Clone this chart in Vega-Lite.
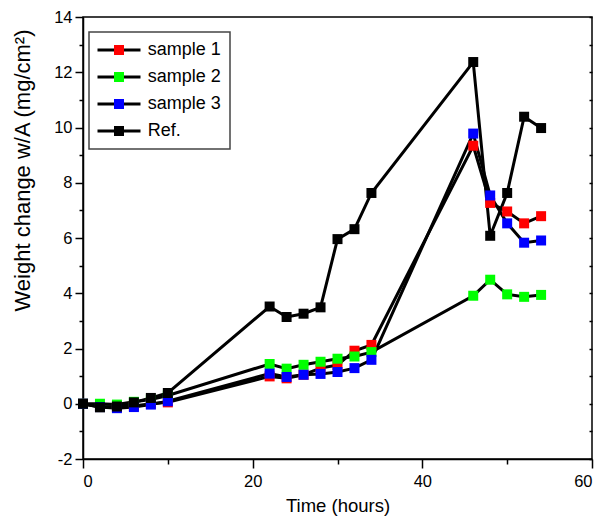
{
  "$schema": "https://vega.github.io/schema/vega-lite/v6.json",
  "width": 509,
  "height": 442,
  "autosize": {"type": "none"},
  "padding": {"left": 83, "top": 17, "right": 11, "bottom": 59},
  "background": "white",
  "config": {
    "view": {"stroke": "black", "strokeWidth": 1.5},
    "font": "Liberation Sans",
    "axis": {
      "grid": false,
      "domainColor": "black",
      "domainWidth": 1.5,
      "tickColor": "black",
      "tickWidth": 1.5,
      "labelColor": "black",
      "titleColor": "black",
      "labelFont": "Liberation Sans",
      "labelFontSize": 16.5,
      "titleFontWeight": "normal"
    },
    "legend": {"strokeWidth": 1.5}
  },
  "data": {
    "values": [
      {"time": 0, "w": 0, "series": "sample 1"},
      {"time": 2, "w": -0.1, "series": "sample 1"},
      {"time": 4, "w": -0.12, "series": "sample 1"},
      {"time": 6, "w": -0.08, "series": "sample 1"},
      {"time": 8, "w": 0.0, "series": "sample 1"},
      {"time": 10, "w": 0.05, "series": "sample 1"},
      {"time": 22, "w": 0.99, "series": "sample 1"},
      {"time": 24, "w": 0.92, "series": "sample 1"},
      {"time": 26, "w": 1.05, "series": "sample 1"},
      {"time": 28, "w": 1.29, "series": "sample 1"},
      {"time": 30, "w": 1.40, "series": "sample 1"},
      {"time": 32, "w": 1.92, "series": "sample 1"},
      {"time": 34, "w": 2.13, "series": "sample 1"},
      {"time": 46, "w": 9.34, "series": "sample 1"},
      {"time": 48, "w": 7.27, "series": "sample 1"},
      {"time": 50, "w": 6.96, "series": "sample 1"},
      {"time": 52, "w": 6.53, "series": "sample 1"},
      {"time": 54, "w": 6.79, "series": "sample 1"},
      {"time": 0, "w": 0, "series": "sample 2"},
      {"time": 2, "w": 0.0, "series": "sample 2"},
      {"time": 4, "w": -0.03, "series": "sample 2"},
      {"time": 6, "w": 0.07, "series": "sample 2"},
      {"time": 8, "w": 0.15, "series": "sample 2"},
      {"time": 10, "w": 0.3, "series": "sample 2"},
      {"time": 22, "w": 1.44, "series": "sample 2"},
      {"time": 24, "w": 1.27, "series": "sample 2"},
      {"time": 26, "w": 1.41, "series": "sample 2"},
      {"time": 28, "w": 1.52, "series": "sample 2"},
      {"time": 30, "w": 1.63, "series": "sample 2"},
      {"time": 32, "w": 1.71, "series": "sample 2"},
      {"time": 34, "w": 1.87, "series": "sample 2"},
      {"time": 46, "w": 3.91, "series": "sample 2"},
      {"time": 48, "w": 4.49, "series": "sample 2"},
      {"time": 50, "w": 3.96, "series": "sample 2"},
      {"time": 52, "w": 3.87, "series": "sample 2"},
      {"time": 54, "w": 3.94, "series": "sample 2"},
      {"time": 0, "w": 0, "series": "sample 3"},
      {"time": 2, "w": -0.12, "series": "sample 3"},
      {"time": 4, "w": -0.16, "series": "sample 3"},
      {"time": 6, "w": -0.12, "series": "sample 3"},
      {"time": 8, "w": -0.03, "series": "sample 3"},
      {"time": 10, "w": 0.09, "series": "sample 3"},
      {"time": 22, "w": 1.09, "series": "sample 3"},
      {"time": 24, "w": 0.97, "series": "sample 3"},
      {"time": 26, "w": 1.05, "series": "sample 3"},
      {"time": 28, "w": 1.08, "series": "sample 3"},
      {"time": 30, "w": 1.15, "series": "sample 3"},
      {"time": 32, "w": 1.29, "series": "sample 3"},
      {"time": 34, "w": 1.59, "series": "sample 3"},
      {"time": 46, "w": 9.78, "series": "sample 3"},
      {"time": 48, "w": 7.54, "series": "sample 3"},
      {"time": 50, "w": 6.53, "series": "sample 3"},
      {"time": 52, "w": 5.83, "series": "sample 3"},
      {"time": 54, "w": 5.91, "series": "sample 3"},
      {"time": 0, "w": 0, "series": "Ref."},
      {"time": 2, "w": -0.13, "series": "Ref."},
      {"time": 4, "w": -0.1, "series": "Ref."},
      {"time": 6, "w": 0.05, "series": "Ref."},
      {"time": 8, "w": 0.21, "series": "Ref."},
      {"time": 10, "w": 0.39, "series": "Ref."},
      {"time": 22, "w": 3.52, "series": "Ref."},
      {"time": 24, "w": 3.14, "series": "Ref."},
      {"time": 26, "w": 3.26, "series": "Ref."},
      {"time": 28, "w": 3.49, "series": "Ref."},
      {"time": 30, "w": 5.96, "series": "Ref."},
      {"time": 32, "w": 6.32, "series": "Ref."},
      {"time": 34, "w": 7.63, "series": "Ref."},
      {"time": 46, "w": 12.37, "series": "Ref."},
      {"time": 48, "w": 6.08, "series": "Ref."},
      {"time": 50, "w": 7.63, "series": "Ref."},
      {"time": 52, "w": 10.39, "series": "Ref."},
      {"time": 54, "w": 9.98, "series": "Ref."}
    ]
  },
  "encoding": {
    "x": {
      "field": "time",
      "type": "quantitative",
      "scale": {"domain": [0, 60], "nice": false, "zero": false},
      "axis": {
        "title": "Time (hours)",
        "values": [0, 10, 20, 30, 40, 50, 60],
        "labelExpr": "datum.value % 20 === 0 ? '' + datum.value : ''",
        "tickSize": {"condition": {"test": "datum.value % 20 === 0", "value": 9}, "value": 5},
        "labelPadding": 5,
        "titleFont": "Liberation Sans",
        "titleFontSize": 18.5,
        "titlePadding": 7
      }
    }
  },
  "layer": [
    {
      "mark": {"type": "line", "strokeWidth": 3},
      "encoding": {
        "y": {
          "field": "w",
          "type": "quantitative",
          "scale": {"domain": [-2, 14], "nice": false, "zero": false},
          "axis": {
            "orient": "left",
            "title": "Weight change w/A (mg/cm²)",
            "values": [-2, -1, 0, 1, 2, 3, 4, 5, 6, 7, 8, 9, 10, 11, 12, 13, 14],
            "labelExpr": "datum.value % 2 === 0 ? (datum.value < 0 ? '-' + abs(datum.value) : '' + datum.value) : ''",
            "tickSize": {"condition": {"test": "datum.value % 2 === 0", "value": 8}, "value": 4},
            "labelPadding": 3,
            "titleFont": "Liberation Sans",
            "titleFontSize": 22,
            "titleAngle": -90,
            "titleAlign": "center",
            "titleBaseline": "alphabetic",
            "titleX": -54,
            "titleY": 153
          }
        },
        "stroke": {
          "field": "series",
          "type": "nominal",
          "sort": ["sample 1", "sample 2", "sample 3", "Ref."],
          "scale": {"range": ["black", "black", "black", "black"]},
          "legend": {
            "orient": "none",
            "legendX": 6,
            "legendY": 15,
            "title": null,
            "symbolType": "M-4.3,0H4.3",
            "symbolSize": 100,
            "symbolStrokeWidth": 3,
            "symbolStrokeColor": "black",
            "symbolOffset": 12,
            "labelOffset": 19.7,
            "labelFont": "Liberation Sans",
            "labelFontSize": 18,
            "labelColor": "black",
            "padding": 9,
            "rowPadding": 9,
            "strokeColor": "#444444",
            "zindex": 0
          }
        }
      }
    },
    {
      "mark": {"type": "point", "shape": "square", "filled": true, "size": 100, "opacity": 1, "strokeWidth": 0},
      "encoding": {
        "y": {
          "field": "w",
          "type": "quantitative",
          "scale": {"domain": [-2, 14], "nice": false, "zero": false},
          "axis": {
            "orient": "right",
            "title": null,
            "values": [-2, -1, 0, 1, 2, 3, 4, 5, 6, 7, 8, 9, 10, 11, 12, 13, 14],
            "labels": false,
            "domain": false,
            "tickSize": -3
          }
        },
        "fill": {
          "field": "series",
          "type": "nominal",
          "scale": {"domain": ["sample 1", "sample 2", "sample 3", "Ref."], "range": ["#ff0000", "#00ff00", "#0000ff", "#000000"]},
          "legend": {
            "orient": "none",
            "legendX": 6,
            "legendY": 15,
            "title": null,
            "symbolType": "square",
            "symbolSize": 100,
            "symbolStrokeWidth": 0,
            "symbolOffset": 12,
            "labelOffset": 19.7,
            "labelFont": "Liberation Sans",
            "labelFontSize": 18,
            "labelOpacity": 0,
            "padding": 9,
            "rowPadding": 9,
            "strokeColor": "transparent",
            "zindex": 1
          }
        }
      }
    }
  ],
  "resolve": {"axis": {"y": "independent"}}
}
